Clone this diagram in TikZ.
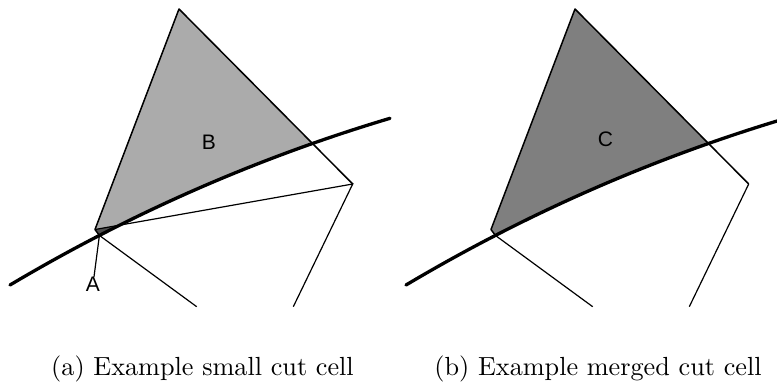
\documentclass[tikz,border=0pt]{standalone}
\usepackage{graphicx}
\usepackage{fontspec}
\newfontfamily\labelfont{Liberation Sans}
\usetikzlibrary{positioning}
\definecolor{smallcolor}{HTML}{4E4E4E}
\definecolor{cutcolor}{HTML}{ABABAB}
\definecolor{mergecolor}{HTML}{7F7F7F}

\begin{document}
\begin{tikzpicture}[
    x=1pt, y=-1pt,
    wall/.style={line width=3.3pt, line cap=round},
    celledge/.style={line width=1.5pt, line join=round},
    meshline/.style={line width=1.2pt},
    lbl/.style={font=\labelfont\fontsize{21}{24}\selectfont, inner sep=0pt},
    subcap/.style={anchor=base, inner sep=0pt},
  ]
  \clip (0,0) rectangle (777,384);

  % (a) small cut cell
  \coordinate (top) at (179,9);
  \coordinate (left) at (95,229.5);
  \coordinate (right) at (352.7,184);
  \coordinate (w0) at (10,285);
  \coordinate (c1) at (130,213.7);
  \coordinate (c2) at (256.7,158.1);
  \coordinate (w1) at (390,118.3);
  \path (w0) .. controls (c1) and (c2) .. (w1) coordinate[pos=0.245] (foot);
  \coordinate (endl) at (196.7,306.7);
  \coordinate (endr) at (293.3,306.7);
  \begin{scope}
    \clip (w0) .. controls (c1) and (c2) .. (w1) -- (390,0) -- (10,0) -- cycle;
    \fill[cutcolor] (top) -- (right) -- (left) -- cycle;
    \fill[smallcolor] (left) -- (right) -- (foot) -- cycle;
  \end{scope}
  \node[lbl] (B) at (209,142) {B};
  \node[lbl] (A) at (93,284.5) {A};
  \draw[celledge] (right) -- (top) -- (left) -- (foot);
  \draw[meshline] (left) -- (right) -- (endr);
  \draw[meshline] (endl) -- (foot) -- (A);
  \draw[wall] (w0) .. controls (c1) and (c2) .. (w1);
  \node[subcap] (capa) at (202.5,375) {\scalebox{2.62}{(a) Example small cut cell}};

  % (b) merged cut cell
  \begin{scope}[xshift=396pt]
    \coordinate (top) at (179,9);
    \coordinate (left) at (95,229.5);
    \coordinate (right) at (352.7,184);
    \coordinate (w0) at (10,285);
    \coordinate (c1) at (130,213.7);
    \coordinate (c2) at (256.7,158.1);
    \coordinate (w1) at (390,118.3);
    \path (w0) .. controls (c1) and (c2) .. (w1) coordinate[pos=0.245] (foot);
    \coordinate (endl) at (196.7,306.7);
    \coordinate (endr) at (293.3,306.7);
    \begin{scope}
      \clip (w0) .. controls (c1) and (c2) .. (w1) -- (390,0) -- (10,0) -- cycle;
      \fill[mergecolor] (top) -- (right) -- (foot) -- (left) -- cycle;
    \end{scope}
    \node[lbl] (C) at (209.5,139.5) {C};
    \draw[celledge] (right) -- (top) -- (left) -- (foot);
    \draw[meshline] (right) -- (endr);
    \draw[meshline] (endl) -- (foot);
    \draw[wall] (w0) .. controls (c1) and (c2) .. (w1);
    \node[subcap] (capb) at (202,375) {\scalebox{2.62}{(b) Example merged cut cell}};
  \end{scope}
\end{tikzpicture}
\end{document}
